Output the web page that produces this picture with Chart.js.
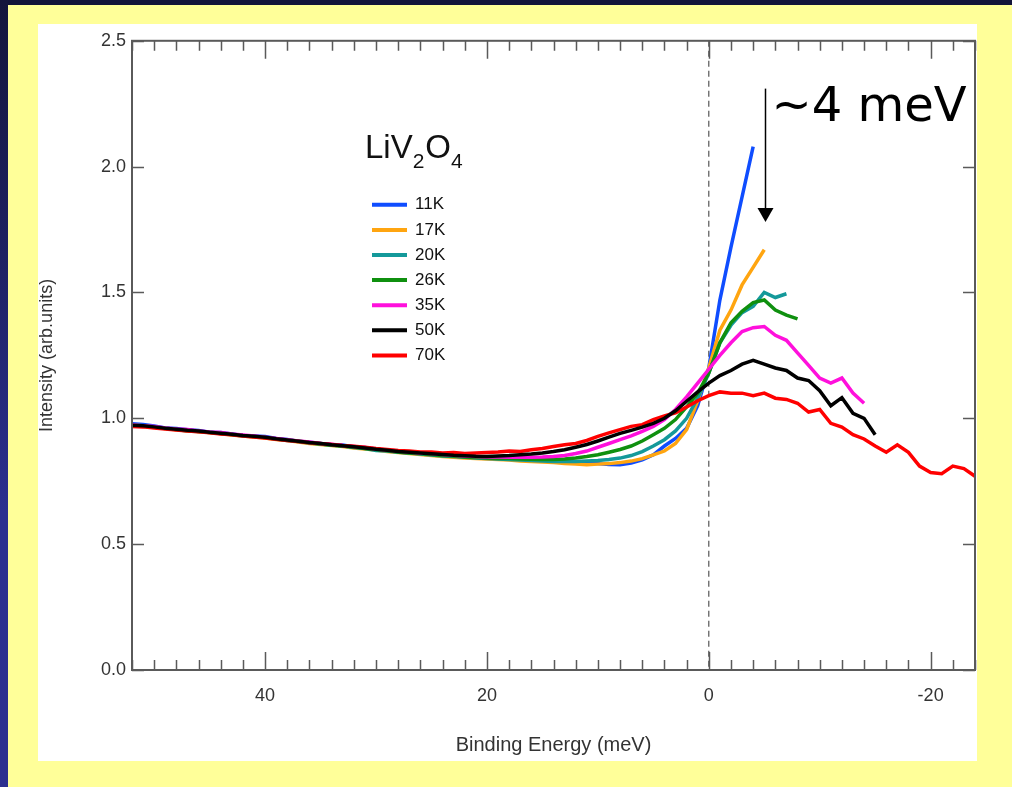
<!DOCTYPE html>
<html>
<head>
<meta charset="utf-8">
<script src="https://cdn.jsdelivr.net/npm/chart.js@4.4.1/dist/chart.umd.min.js"></script>
<style>
  html, body { margin: 0; padding: 0; }
  body { width: 1012px; height: 787px; background: #13143a; position: relative; overflow: hidden; }
  #edge { position: absolute; left: 0; top: 0; width: 8px; height: 787px;
          background: linear-gradient(#14153c 0%, #1d205f 30%, #2b2f8f 65%, #2c2f8f 100%); }
  #panel { position: absolute; left: 8px; top: 5px; right: 0; bottom: 0; background: #ffff99; }
  #sheet { position: absolute; left: 38px; top: 24px; width: 939px; height: 737px; background: #fff; }
</style>
</head>
<body>
<div id="edge"></div>
<div id="panel"></div>
<div id="sheet"><canvas id="specChart" width="939" height="737"></canvas></div>

<script>
// binding energy grid (meV), left to right on the plot
var energy = [52, 51, 50, 49, 48, 47, 46, 45, 44, 43, 42, 41, 40, 39, 38, 37, 36, 35, 34, 33,
  32, 31, 30, 29, 28, 27, 26, 25, 24, 23, 22, 21, 20, 19, 18, 17, 16, 15, 14, 13,
  12, 11, 10, 9, 8, 7, 6, 5, 4, 3, 2, 1, 0, -1, -2, -3, -4, -5, -6, -7,
  -8, -9, -10, -11, -12, -13, -14, -15, -16, -17, -18, -19, -20, -21, -22, -23, -24];

var temps = ["11K", "17K", "20K", "26K", "35K", "50K", "70K"];
var colors = ["#0f4dff", "#ffa510", "#14999a", "#0f900f", "#ff10dc", "#000000", "#ff0000"];

var i11 = [0.978, 0.975, 0.97, 0.962, 0.96, 0.955, 0.952, 0.945, 0.944, 0.938, 0.932, 0.93, 0.928, 0.92, 0.916, 0.908, 0.905, 0.9, 0.895, 0.894,
  0.886, 0.884, 0.878, 0.872, 0.87, 0.864, 0.862, 0.858, 0.856, 0.852, 0.848, 0.846, 0.845,
  0.842, 0.838, 0.836, 0.832, 0.83, 0.828, 0.826, 0.824, 0.822, 0.82, 0.817, 0.816, 0.822, 0.835, 0.855, 0.89, 0.92, 0.96, 1.05, 1.2,
  1.47, 1.68, 1.88, 2.08];
var i17 = [0.972, 0.97, 0.965, 0.96, 0.955, 0.952, 0.948, 0.944, 0.94, 0.934, 0.93, 0.926, 0.922, 0.916, 0.912, 0.906, 0.9, 0.896, 0.892, 0.888,
  0.882, 0.878, 0.874, 0.868, 0.864, 0.86, 0.856, 0.852, 0.848, 0.845, 0.842, 0.84, 0.838,
  0.836, 0.834, 0.83, 0.828, 0.826, 0.824, 0.82, 0.818, 0.816, 0.818, 0.82, 0.824, 0.83, 0.84, 0.855, 0.87, 0.9, 0.955, 1.07, 1.2,
  1.35, 1.43, 1.53, 1.6, 1.67];
var i20 = [0.975, 0.97, 0.966, 0.962, 0.956, 0.953, 0.948, 0.946, 0.94, 0.936, 0.93, 0.928, 0.924, 0.918, 0.912, 0.908, 0.902, 0.898, 0.893, 0.89,
  0.884, 0.88, 0.872, 0.87, 0.865, 0.862, 0.858, 0.854, 0.85, 0.848, 0.845, 0.842, 0.84,
  0.838, 0.836, 0.834, 0.832, 0.83, 0.828, 0.828, 0.828, 0.83, 0.832, 0.836, 0.842, 0.852, 0.868, 0.89, 0.915, 0.95, 1.0, 1.08, 1.18,
  1.3, 1.37, 1.42, 1.445, 1.5, 1.48, 1.495];
var i26 = [0.97, 0.968, 0.964, 0.96, 0.956, 0.95, 0.948, 0.944, 0.94, 0.936, 0.932, 0.928, 0.924, 0.918, 0.914, 0.91, 0.904, 0.898, 0.894, 0.89,
  0.886, 0.88, 0.876, 0.872, 0.866, 0.862, 0.86, 0.856, 0.852, 0.85, 0.846, 0.844, 0.842,
  0.84, 0.84, 0.838, 0.837, 0.836, 0.836, 0.838, 0.842, 0.848, 0.855, 0.865, 0.876, 0.89, 0.91, 0.935, 0.96, 0.995, 1.045, 1.1, 1.18,
  1.3, 1.38, 1.425, 1.46, 1.47, 1.43, 1.41, 1.395];
var i35 = [0.974, 0.97, 0.968, 0.962, 0.958, 0.956, 0.95, 0.946, 0.944, 0.938, 0.934, 0.93, 0.925, 0.92, 0.915, 0.91, 0.906, 0.9, 0.897, 0.892,
  0.888, 0.884, 0.878, 0.874, 0.87, 0.866, 0.862, 0.86, 0.856, 0.853, 0.85, 0.848, 0.846,
  0.846, 0.845, 0.845, 0.845, 0.846, 0.848, 0.852, 0.86, 0.87, 0.885, 0.9, 0.915, 0.93, 0.948, 0.968, 0.995, 1.035, 1.085, 1.14, 1.195,
  1.25, 1.3, 1.345, 1.36, 1.365, 1.33, 1.31, 1.26, 1.21, 1.16, 1.14, 1.16, 1.1, 1.06];
var i50 = [0.972, 0.97, 0.966, 0.961, 0.957, 0.953, 0.95, 0.945, 0.941, 0.937, 0.932, 0.929, 0.925, 0.919, 0.914, 0.909, 0.904, 0.9, 0.895, 0.891,
  0.887, 0.882, 0.877, 0.873, 0.868, 0.865, 0.862, 0.859, 0.856, 0.853, 0.851, 0.849, 0.848,
  0.85, 0.852, 0.855, 0.858, 0.862, 0.868, 0.875, 0.885, 0.896, 0.91, 0.925, 0.94, 0.952, 0.965, 0.98, 1.0, 1.03, 1.068, 1.105, 1.14,
  1.17, 1.19, 1.215, 1.23, 1.215, 1.2, 1.19, 1.16, 1.15, 1.11, 1.05, 1.082, 1.02, 1.0, 0.935];
var i70 = [0.968, 0.966, 0.962, 0.958, 0.954, 0.95, 0.947, 0.943, 0.938, 0.935, 0.93, 0.926, 0.922, 0.917, 0.912, 0.908, 0.903, 0.9, 0.896, 0.892,
  0.889, 0.885, 0.88, 0.876, 0.872, 0.87, 0.866, 0.866, 0.862, 0.864, 0.86, 0.862, 0.864,
  0.866, 0.87, 0.868, 0.875, 0.88, 0.888, 0.895, 0.9, 0.912, 0.928, 0.942, 0.955, 0.968, 0.975, 0.995, 1.01, 1.022, 1.045, 1.07, 1.09,
  1.105, 1.1, 1.1, 1.09, 1.1, 1.08, 1.075, 1.06, 1.025, 1.035, 0.98, 0.965, 0.935, 0.918, 0.89, 0.865, 0.895, 0.865, 0.81, 0.785,
  0.78, 0.81, 0.8, 0.77];

var xTicks = [40, 20, 0, -20];
var yTicks = [0, 0.5, 1.0, 1.5, 2.0, 2.5];
var sampleName = "LiV2O4";

var series = [i11, i17, i20, i26, i35, i50, i70];
var drawOrder = [6, 5, 4, 3, 2, 0, 1];

var fontFam = '"Liberation Sans", Arial, sans-serif';

// frame, inward tick marks, dashed zero line
var frame = {
  id: "frame",
  beforeDatasetsDraw: function (chart) {
    var ctx = chart.ctx, a = chart.chartArea;
    var px = chart.scales.x.getPixelForValue(0);
    ctx.save();
    ctx.strokeStyle = "#555";
    ctx.lineWidth = 1.2;
    ctx.setLineDash([6, 4]);
    ctx.beginPath();
    ctx.moveTo(px, a.top);
    ctx.lineTo(px, a.bottom);
    ctx.stroke();
    ctx.restore();
  },
  afterDatasetsDraw: function (chart) {
    var ctx = chart.ctx, a = chart.chartArea;
    var x = chart.scales.x, y = chart.scales.y;
    ctx.save();
    ctx.strokeStyle = "#5a5a5a";
    ctx.lineWidth = 1.5;
    ctx.beginPath();
    for (var v = x.min; v <= x.max; v += 2) {
      var p = Math.round(x.getPixelForValue(v)) + 0.5;
      var len = xTicks.indexOf(v) >= 0 ? 18 : 10;
      ctx.moveTo(p, a.bottom); ctx.lineTo(p, a.bottom - len);
      ctx.moveTo(p, a.top); ctx.lineTo(p, a.top + len);
    }
    yTicks.forEach(function (t) {
      var q = Math.round(y.getPixelForValue(t)) + 0.5;
      ctx.moveTo(a.left, q); ctx.lineTo(a.left + 12, q);
      ctx.moveTo(a.right, q); ctx.lineTo(a.right - 12, q);
    });
    ctx.stroke();
    ctx.lineWidth = 2;
    ctx.strokeRect(a.left, a.top, a.right - a.left, a.bottom - a.top);
    ctx.restore();
  },
  afterDraw: function (chart) {
    var ctx = chart.ctx, a = chart.chartArea;
    var x = chart.scales.x, y = chart.scales.y;
    ctx.save();

    // sample name with subscript digits
    var cx = a.left + 233, base = a.top + 117;
    ctx.fillStyle = "#111";
    ctx.textAlign = "left";
    ctx.textBaseline = "alphabetic";
    sampleName.match(/\d+|\D+/g).forEach(function (part) {
      var sub = /\d/.test(part);
      ctx.font = (sub ? "21px " : "33px ") + fontFam;
      ctx.fillText(part, cx, base + (sub ? 10 : 0));
      cx += ctx.measureText(part).width + (sub ? 1 : 0);
    });

    // legend
    ctx.font = "17px " + fontFam;
    ctx.textBaseline = "middle";
    chart.data.datasets.forEach(function (ds, i) {
      var yy = a.top + 164 + i * 25.1;
      ctx.strokeStyle = ds.borderColor;
      ctx.lineWidth = 4;
      ctx.beginPath();
      ctx.moveTo(a.left + 240, yy);
      ctx.lineTo(a.left + 275, yy);
      ctx.stroke();
      ctx.fillStyle = "#111";
      ctx.fillText(ds.label, a.left + 283, yy);
    });

    // arrow with gap note
    var ax = Math.round(x.getPixelForValue(-5.1)) + 0.5;
    var y0 = y.getPixelForValue(2.31), y1 = y.getPixelForValue(1.78);
    ctx.strokeStyle = "#000";
    ctx.lineWidth = 1.5;
    ctx.beginPath();
    ctx.moveTo(ax, y0);
    ctx.lineTo(ax, y1 - 12);
    ctx.stroke();
    ctx.fillStyle = "#000";
    ctx.beginPath();
    ctx.moveTo(ax - 8, y1 - 14);
    ctx.lineTo(ax + 8, y1 - 14);
    ctx.lineTo(ax, y1);
    ctx.closePath();
    ctx.fill();

    ctx.font = '48px "DejaVu Sans", sans-serif';
    ctx.textBaseline = "alphabetic";
    ctx.fillText("~4 meV", ax + 6, y.getPixelForValue(2.18));
    ctx.restore();
  }
};

var datasets = series.map(function (vals, k) {
  return {
    label: temps[k],
    data: vals.map(function (v, i) { return { x: energy[i], y: v }; }),
    borderColor: colors[k],
    borderWidth: 3.5,
    pointRadius: 0,
    tension: 0,
    fill: false,
    order: drawOrder[k]
  };
});

var ctx = document.getElementById("specChart");

var specChart = new Chart(ctx, {
  type: "line",
  data: { datasets: datasets },
  plugins: [frame],
  options: {
    responsive: false,
    animation: false,
    layout: { padding: { left: 0, top: 12, right: 2, bottom: 0 } },
    plugins: { legend: { display: false }, tooltip: { enabled: false } },
    scales: {
      x: {
        type: "linear",
        reverse: true,
        min: -24,
        max: 52,
        grid: { display: false, drawTicks: false },
        border: { display: false },
        afterBuildTicks: function (s) { s.ticks = xTicks.map(function (v) { return { value: v }; }); },
        afterFit: function (s) { s.height = 91; },
        ticks: { padding: 15, color: "#333", font: { family: fontFam, size: 18 } },
        title: {
          display: true,
          text: "Binding Energy (meV)",
          color: "#333",
          padding: { top: 0, bottom: 6 },
          font: { family: fontFam, size: 20, lineHeight: 1 }
        }
      },
      y: {
        min: 0,
        max: 2.5,
        grid: { display: false, drawTicks: false },
        border: { display: false },
        afterBuildTicks: function (s) { s.ticks = yTicks.map(function (v) { return { value: v }; }); },
        afterFit: function (s) { s.width = 94; },
        ticks: {
          padding: 6,
          color: "#333",
          font: { family: fontFam, size: 18 },
          callback: function (v) { return Number(v).toFixed(1); }
        },
        title: {
          display: true,
          text: "Intensity (arb.units)",
          color: "#333",
          padding: { top: 0, bottom: 0 },
          font: { family: fontFam, size: 18, lineHeight: 1 }
        }
      }
    }
  }
});
</script>
</body>
</html>
